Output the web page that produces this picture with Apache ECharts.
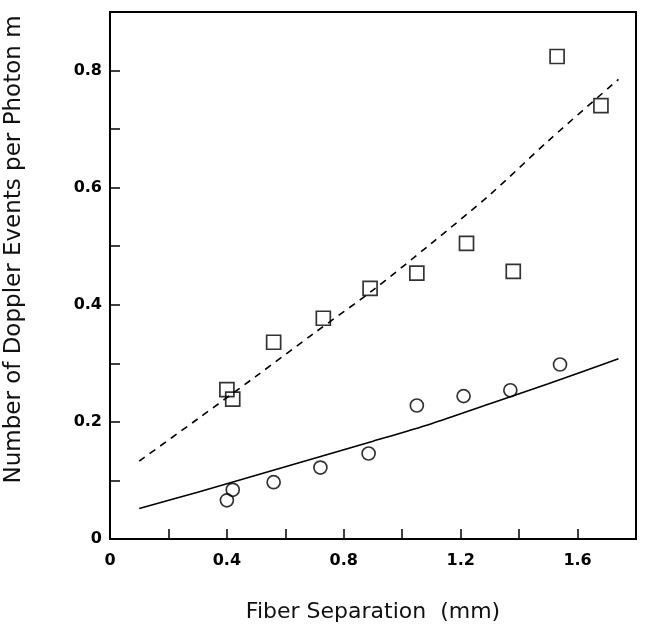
<!DOCTYPE html>
<html>
<head>
    <meta charset="utf-8">
    <title>Doppler events</title>
    <script src="https://cdn.jsdelivr.net/npm/echarts@6/dist/echarts.min.js"></script>
    <style type="text/css">
        body {
            margin: 0;
            background: #fff;
        }
    </style>
</head>
<body>
<div id="main" style="width: 647px;height:629px;"></div>
<script>
    // measured points
    var squareX = [0.40, 0.42, 0.56, 0.73, 0.89, 1.05, 1.22, 1.38, 1.53, 1.68];
    var squareY = [0.255, 0.239, 0.336, 0.377, 0.428, 0.454, 0.505, 0.457, 0.824, 0.740];
    var circleX = [0.40, 0.42, 0.56, 0.72, 0.885, 1.05, 1.21, 1.37, 1.54];
    var circleY = [0.066, 0.084, 0.097, 0.122, 0.146, 0.228, 0.244, 0.254, 0.298];
    // model curves
    var curveX = [0.1, 0.3, 0.5, 0.7, 0.9, 1.1, 1.3, 1.5, 1.74];
    var dashedY = [0.133, 0.205, 0.278, 0.352, 0.425, 0.505, 0.588, 0.680, 0.785];
    var solidY = [0.052, 0.080, 0.109, 0.138, 0.167, 0.197, 0.231, 0.265, 0.308];

    function pairs(xs, ys) {
        var out = [];
        for (var i = 0; i < xs.length; i++) {
            out.push([xs[i], ys[i]]);
        }
        return out;
    }

    var myChart = echarts.init(document.getElementById('main'));
    var labelFont = {
        color: '#000',
        fontFamily: 'DejaVu Sans',
        fontWeight: 'bold',
        fontSize: 16
    };
    var titleFont = {
        color: '#111',
        fontFamily: 'DejaVu Sans',
        fontSize: 22
    };

    option = {
        animation: false,
        backgroundColor: '#fff',
        grid: {
            left: 110,
            right: 11,
            top: 12,
            bottom: 90,
            outerBoundsMode: 'none',
            containLabel: false,
            show: true,
            borderColor: '#000',
            borderWidth: 2
        },
        xAxis: {
            type: 'value',
            min: 0,
            max: 1.8,
            interval: 0.2,
            name: 'Fiber Separation  (mm)',
            nameLocation: 'middle',
            nameGap: 62,
            nameTextStyle: titleFont,
            axisLine: {lineStyle: {color: '#000', width: 2}},
            axisTick: {inside: true, length: 10, lineStyle: {color: '#000', width: 1.5}},
            splitLine: {show: false},
            axisLabel: Object.assign({
                margin: 14,
                showMaxLabel: false,
                formatter: function (v) {
                    var k = Math.round(v * 10);
                    if (k === 0) return '0';
                    return k % 4 === 0 ? v.toFixed(1) : '';
                }
            }, labelFont)
        },
        yAxis: {
            type: 'value',
            min: 0,
            max: 0.9,
            interval: 0.1,
            name: 'Number of Doppler Events per Photon m',
            nameLocation: 'middle',
            nameGap: 84,
            nameTextStyle: Object.assign({padding: [0, 0, 0, 52]}, titleFont, {fontSize: 23}),
            axisLine: {lineStyle: {color: '#000', width: 2}},
            axisTick: {inside: true, length: 10, lineStyle: {color: '#000', width: 1.5}},
            splitLine: {show: false},
            axisLabel: Object.assign({
                margin: 8,
                showMaxLabel: false,
                formatter: function (v) {
                    var k = Math.round(v * 10);
                    if (k === 0) return '0';
                    return k % 2 === 0 ? v.toFixed(1) : '';
                }
            }, labelFont)
        },
        series: [
            {
                name: 'dashed fit',
                type: 'line',
                data: pairs(curveX, dashedY),
                showSymbol: false,
                smooth: 0.3,
                lineStyle: {color: '#000', width: 1.6, type: [7, 6]}
            },
            {
                name: 'solid fit',
                type: 'line',
                data: pairs(curveX, solidY),
                showSymbol: false,
                smooth: 0.3,
                lineStyle: {color: '#000', width: 1.6}
            },
            {
                name: 'squares',
                type: 'scatter',
                data: pairs(squareX, squareY),
                symbol: 'rect',
                symbolSize: 14,
                itemStyle: {color: 'rgba(255,255,255,0)', borderColor: '#000', borderWidth: 1.7}
            },
            {
                name: 'circles',
                type: 'scatter',
                data: pairs(circleX, circleY),
                symbol: 'circle',
                symbolSize: 13,
                itemStyle: {color: 'rgba(255,255,255,0)', borderColor: '#000', borderWidth: 1.7}
            }
        ]
    };
    myChart.setOption(option);
</script>
</body>
</html>
